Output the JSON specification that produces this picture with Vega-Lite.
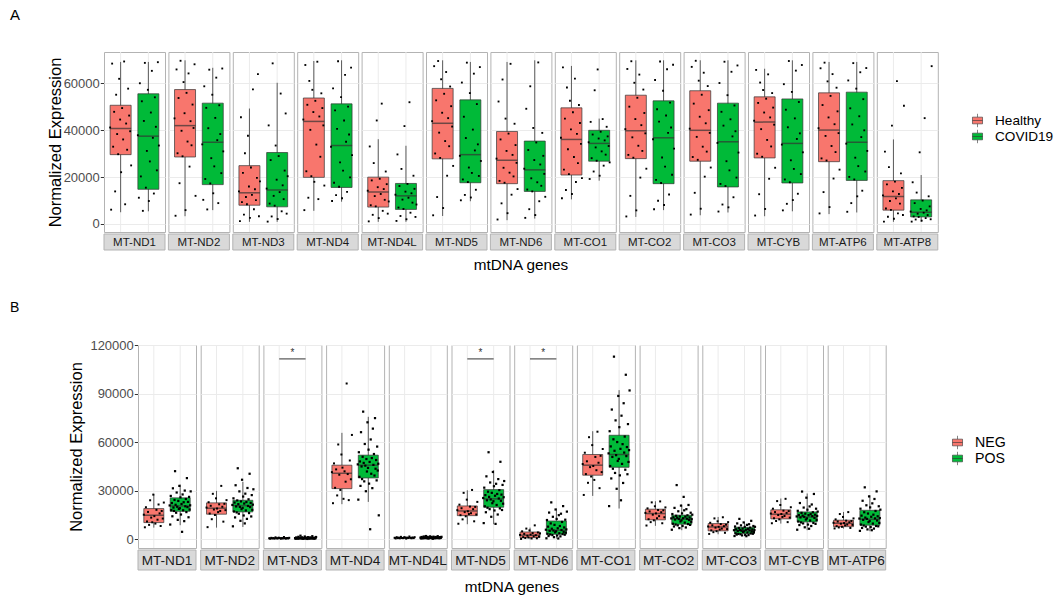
{
"$schema": "https://vega.github.io/schema/vega-lite/v6.json",
"padding": {"left": 10, "top": 8, "right": 0, "bottom": 0},
"background": "white",
"config": {
 "font": "Liberation Sans",
 "view": {"stroke": "#B3B3B3", "strokeWidth": 1},
 "title": {"fontWeight": "normal", "fontSize": 15, "color": "black", "anchor": "start", "frame": "group"},
 "axisY": {"domain": false, "labelColor": "#4D4D4D", "labelFontSize": 13, "labelPadding": 1, "tickColor": "#333333", "tickSize": 3.7, "titleFontWeight": "normal", "titleFontSize": 16.5, "titleColor": "black", "gridColor": "#EBEBEB"},
 "header": {"labelOrient": "bottom", "titleOrient": "bottom", "labelColor": "#1A1A1A", "titleFontWeight": "normal", "titleColor": "black", "titleFontSize": 15.3}
},
"datasets": {
 "a": [
  {"g":"MT-ND1","s":"Healthy","lo":5000,"q1":29600,"m":40800,"q3":50700,"hi":69200,"v":[41200,6100,68500,33000,47900,13900,55200,38400,29800,62000,44600,22100,49500,36100,69400,8400,42900,31700,57800,46300,39600,25000]},
  {"g":"MT-ND1","s":"COVID19","lo":5400,"q1":14800,"m":37500,"q3":55600,"hi":69200,"v":[37900,11200,60100,20300,52400,5600,44000,68800,15500,31200,57300,9800,26700,47600,65400,36800,13000,54100,41500,22900,69100,33500]},
  {"g":"MT-ND2","s":"Healthy","lo":3300,"q1":28600,"m":42000,"q3":57400,"hi":69900,"v":[45100,3500,66000,30200,53800,17400,69700,39800,28900,60600,47300,5900,56000,35200,64300,24500,43900,33600,51000,41000,68200,12000]},
  {"g":"MT-ND2","s":"COVID19","lo":5900,"q1":16800,"m":34900,"q3":51600,"hi":66700,"v":[34000,10300,58800,19200,49600,6200,40900,65900,17300,28100,55200,13100,24600,45300,62500,35800,8900,50700,38400,21700,66400,31000]},
  {"g":"MT-ND3","s":"Healthy","lo":900,"q1":8000,"m":13300,"q3":24900,"hi":49300,"v":[13900,1200,45600,9300,21800,4000,30200,11500,8400,37700,16000,2600,24100,12400,57500,6300,14800,10200,19700,64000,3300,18200]},
  {"g":"MT-ND3","s":"COVID19","lo":900,"q1":7300,"m":14500,"q3":30500,"hi":60300,"v":[15100,1000,42100,8700,27300,3200,68600,12000,7800,33500,18900,2100,29000,13600,55700,5400,16500,10600,22800,47200,4400,20400]},
  {"g":"MT-ND4","s":"Healthy","lo":5600,"q1":19900,"m":43800,"q3":53800,"hi":69600,"v":[44600,5900,67900,22500,50900,11200,61100,40200,20400,57300,47800,18000,52600,33900,69300,10600,45900,28700,55800,49500,42100,16400]},
  {"g":"MT-ND4","s":"COVID19","lo":9500,"q1":15600,"m":33500,"q3":51300,"hi":69900,"v":[33000,9800,57900,17600,48500,12300,40600,69500,15900,26300,54200,11000,22800,44200,63700,35100,13700,50100,38200,19900,66800,29400]},
  {"g":"MT-ND4L","s":"Healthy","lo":900,"q1":7200,"m":13600,"q3":20000,"hi":36200,"v":[14200,1100,33100,8000,18600,3900,26000,11900,7500,44200,15700,2500,19300,12800,51400,5600,14900,10300,22400,17000,4400,9600]},
  {"g":"MT-ND4L","s":"COVID19","lo":900,"q1":6200,"m":12000,"q3":17300,"hi":33400,"v":[12500,1300,29700,7000,16200,3400,23500,10400,6400,41800,13800,2000,17100,11200,52000,4800,13100,9100,20600,15000,3000,8300]},
  {"g":"MT-ND5","s":"Healthy","lo":3400,"q1":27800,"m":43000,"q3":57900,"hi":69900,"v":[43900,3700,67400,30100,52800,11500,69600,39000,28200,61800,47500,6800,55600,35400,64900,20600,45200,33200,58700,50300,41600,24800]},
  {"g":"MT-ND5","s":"COVID19","lo":9700,"q1":17600,"m":29600,"q3":53000,"hi":69200,"v":[29100,10100,60400,19000,45800,12400,36700,68900,17900,24100,55900,11300,21800,40300,64200,31400,14600,51200,34000,20500,67000,26900]},
  {"g":"MT-ND6","s":"Healthy","lo":1600,"q1":17200,"m":27200,"q3":39500,"hi":69200,"v":[27900,1900,52300,18400,36100,8800,61700,24000,17600,45000,31200,4600,38600,21900,68400,12500,29500,20300,42800,33700,26100,14900]},
  {"g":"MT-ND6","s":"COVID19","lo":2300,"q1":13900,"m":23100,"q3":35400,"hi":69900,"v":[23600,2600,49200,14700,31600,6300,58800,19500,13900,41000,27300,3800,34800,17800,69000,9700,25400,16300,38900,29100,21400,11600]},
  {"g":"MT-CO1","s":"Healthy","lo":10500,"q1":20900,"m":36100,"q3":49600,"hi":67500,"v":[36800,11000,66900,23200,45000,14500,58300,31900,21300,52600,40400,12800,47700,28600,62100,17900,38500,26000,50800,43100,34200,19600]},
  {"g":"MT-CO1","s":"COVID19","lo":18500,"q1":26800,"m":34400,"q3":40000,"hi":45000,"v":[34900,19200,43600,28100,38200,22400,57100,32700,27000,66000,36500,20600,39400,31000,44800,24900,35700,29600,41500,37400,33300,26300]},
  {"g":"MT-CO2","s":"Healthy","lo":3000,"q1":27900,"m":39800,"q3":55000,"hi":69900,"v":[40500,3200,66200,29500,50100,12000,69500,37000,28300,60300,44800,5800,53900,33400,63800,19800,42200,31200,57400,47400,38700,23600]},
  {"g":"MT-CO2","s":"COVID19","lo":5900,"q1":17200,"m":36800,"q3":52600,"hi":69900,"v":[36200,6300,61500,18800,49000,9900,43700,69400,17500,28400,56900,8100,24500,46300,66100,38900,12600,51800,41200,21000,68000,32200]},
  {"g":"MT-CO3","s":"Healthy","lo":3700,"q1":26800,"m":40000,"q3":56900,"hi":69900,"v":[40700,4000,67100,28600,51400,13300,69700,37200,27400,61200,45800,6500,55200,33000,64600,20200,43000,30900,58900,48600,38900,24100]},
  {"g":"MT-CO3","s":"COVID19","lo":4900,"q1":15800,"m":35100,"q3":51600,"hi":69900,"v":[34600,5300,60200,17100,47900,8300,42000,69300,16200,26800,55000,7100,22900,44700,65000,37400,11400,50600,39600,19800,67700,30500]},
  {"g":"MT-CYB","s":"Healthy","lo":3300,"q1":28200,"m":43500,"q3":54300,"hi":66300,"v":[44100,3600,65800,30000,51700,12700,60400,40500,28700,57200,47600,6400,53500,35900,63900,19300,45500,33100,55900,49700,42400,24000]},
  {"g":"MT-CYB","s":"COVID19","lo":5400,"q1":17500,"m":34400,"q3":53400,"hi":69900,"v":[33900,5800,59700,19000,48800,8600,41300,69600,17800,27200,56400,10200,23500,45100,65500,36300,12900,52100,38700,21300,67900,30600]},
  {"g":"MT-ATP6","s":"Healthy","lo":4200,"q1":26600,"m":40100,"q3":56000,"hi":69200,"v":[40900,4500,66500,28000,50800,13600,68900,37600,27100,60900,45500,7200,54700,33300,64000,19400,42600,30700,58200,48100,38800,23200]},
  {"g":"MT-ATP6","s":"COVID19","lo":4900,"q1":18600,"m":34900,"q3":56300,"hi":69200,"v":[34300,5200,61300,20100,49400,8900,42500,68700,19000,28300,57800,11800,24700,46000,64800,37100,14200,53300,40000,22400,66600,31200]},
  {"g":"MT-ATP8","s":"Healthy","lo":900,"q1":5900,"m":11700,"q3":18500,"hi":36100,"v":[12200,1000,30900,6600,16900,3100,24300,9800,6000,42000,13900,2200,18100,10900,61000,4500,12800,8700,21600,15400,3800,50500]},
  {"g":"MT-ATP8","s":"COVID19","lo":900,"q1":3000,"m":5000,"q3":10300,"hi":20900,"v":[5300,1000,17800,3200,8900,1900,13400,4400,3000,30600,6400,1400,10000,4800,45200,2500,5800,3800,11800,7500,2000,67400]}
 ],
 "b": [
  {"g":"MT-ND1","s":"NEG","lo":7200,"q1":10300,"m":14850,"q3":18970,"hi":28000,"v":[15200,7400,19800,11000,16900,8900,24100,13400,10500,27600,14300,9700,18200,12100,21500,16000,8200,17500,12800,22700]},
  {"g":"MT-ND1","s":"POS","lo":8700,"q1":17300,"m":20600,"q3":25600,"hi":33800,"v":[20900,9100,26800,18000,22400,14200,31500,19600,17500,24300,42100,21300,16400,28900,20100,12000,23700,18800,33000,19200,25900,15300,21800,4600,27700,17900,22900,11200,30100,20400,24900,16800,37800,19900,23100,13600,26200,18400,21000,29600]},
  {"g":"MT-ND2","s":"NEG","lo":7200,"q1":15500,"m":19200,"q3":22500,"hi":29900,"v":[19600,7500,22900,15900,20700,12400,28100,18400,15000,25300,19000,16800,21600,17500,33000,20100,10900,21900,18000,24200]},
  {"g":"MT-ND2","s":"POS","lo":7600,"q1":16900,"m":20800,"q3":24100,"hi":35500,"v":[21200,8000,25300,17200,22700,13500,33400,20300,16600,24000,43900,21700,15800,29600,20000,11400,23400,18600,36800,19400,26400,14700,22100,9800,28200,17800,23000,12600,31700,20600,24700,16200,40500,19900,22500,14100,27300,18200,21400,30900]},
  {"g":"MT-ND3","s":"NEG","lo":200,"q1":450,"m":600,"q3":850,"hi":1400,"v":[600,300,900,500,700,400,1200,600,500,1000,800,300,700,500,1400,600,400,800,500,900]},
  {"g":"MT-ND3","s":"POS","lo":200,"q1":500,"m":650,"q3":1000,"hi":1600,"sig":111500,"v":[700,300,1100,500,800,400,1500,600,500,900,2200,700,400,1200,600,300,800,500,1700,600,1000,400,700,200,1300,500,800,400,1100,600,900,500,1900,600,700,400,1000,500,700,1400]},
  {"g":"MT-ND4","s":"NEG","lo":21700,"q1":31300,"m":40800,"q3":45800,"hi":65800,"v":[41500,22300,46900,31800,43200,27100,58600,39900,30500,52400,44300,25000,42000,35600,96300,40300,24200,48700,37100,64500]},
  {"g":"MT-ND4","s":"POS","lo":23100,"q1":37900,"m":45800,"q3":52000,"hi":75700,"v":[46300,24500,53800,38600,48100,33000,66200,45000,37200,51000,78900,47200,35800,58900,45500,29700,49600,41900,72300,44100,55400,34400,47800,6200,61700,40500,50200,31600,68400,46000,52700,39400,74900,43600,49000,36400,57300,42500,46700,14800]},
  {"g":"MT-ND4L","s":"NEG","lo":400,"q1":700,"m":900,"q3":1150,"hi":1700,"v":[900,500,1300,700,1000,600,1500,800,700,1200,1100,400,1000,800,1700,900,600,1100,700,1300]},
  {"g":"MT-ND4L","s":"POS","lo":300,"q1":700,"m":950,"q3":1250,"hi":2000,"v":[1000,500,1400,700,1100,600,1700,900,700,1200,2000,1000,600,1500,900,400,1100,800,1800,900,1300,600,1000,300,1600,800,1100,600,1400,900,1200,700,1900,900,1000,600,1300,800,1000,1500]},
  {"g":"MT-ND5","s":"NEG","lo":9300,"q1":14600,"m":17500,"q3":20600,"hi":30300,"v":[18000,9600,21400,14900,19200,12300,28700,16800,14200,24500,17300,15600,20200,16100,30500,18600,11100,20000,15300,23100]},
  {"g":"MT-ND5","s":"POS","lo":9300,"q1":19800,"m":25000,"q3":30700,"hi":42700,"sig":111500,"v":[25500,10000,31900,20400,27300,16700,38900,24100,19500,29400,53800,26200,18600,35100,24600,13900,28700,22300,41600,23500,32800,17800,26900,9500,34300,21200,28000,15300,37200,25200,30400,19100,47900,23800,27600,18100,33600,22000,26000,36000]},
  {"g":"MT-ND6","s":"NEG","lo":0,"q1":1000,"m":2500,"q3":4500,"hi":7200,"v":[2700,200,4900,1300,3300,800,6600,2200,1100,5500,2900,500,3800,1800,8600,2500,600,4200,1600,3600]},
  {"g":"MT-ND6","s":"POS","lo":400,"q1":3100,"m":5600,"q3":11300,"hi":19000,"sig":111500,"v":[5900,600,11900,3400,7800,2000,16500,5200,3000,9800,22800,6500,2600,13900,5400,1300,8900,4300,18400,4900,12600,2300,6800,500,14900,3700,8200,1800,15800,5700,10700,3200,20500,4600,7300,2800,12100,4100,6100,17100]},
  {"g":"MT-CO1","s":"NEG","lo":26800,"q1":39600,"m":45800,"q3":52400,"hi":66800,"v":[46500,27400,53500,40300,48200,34900,63100,44600,38800,58200,45300,36700,50900,42700,66500,47300,31600,51600,41500,55800]},
  {"g":"MT-CO1","s":"POS","lo":19000,"q1":44500,"m":52400,"q3":64300,"hi":92200,"v":[53100,20500,66800,45300,57400,37600,80200,50900,43600,61800,112900,54700,41000,73500,52000,31200,60100,48400,88600,49700,69300,39500,55900,24100,76400,46600,58800,34800,84100,53600,63500,43000,101700,51400,57000,40200,71200,47800,55100,92000]},
  {"g":"MT-CO2","s":"NEG","lo":8300,"q1":12000,"m":15900,"q3":18600,"hi":23500,"v":[16300,8500,19100,12400,17200,10600,22800,15200,11700,20400,16000,13000,18100,14300,23400,16700,9900,17900,13600,19700]},
  {"g":"MT-CO2","s":"POS","lo":5600,"q1":9300,"m":12600,"q3":14900,"hi":21400,"v":[12900,5900,15600,9600,13600,7900,19400,12200,9100,14500,33500,13300,8600,17300,12500,6900,14100,11000,20800,11700,16000,8200,13000,26200,17900,10300,14000,7300,18600,12700,14800,9400,21200,11900,13500,8900,16400,10800,12400,15200]},
  {"g":"MT-CO3","s":"NEG","lo":3100,"q1":5200,"m":7600,"q3":9700,"hi":13800,"v":[7900,3300,10200,5500,8600,4400,12900,7200,5000,11100,7700,6000,9400,6600,13600,8100,4000,9000,6300,10600]},
  {"g":"MT-CO3","s":"POS","lo":1900,"q1":3500,"m":5400,"q3":7400,"hi":10700,"v":[5600,2000,7900,3700,6200,2900,9800,5100,3300,7000,12600,5800,3100,8600,5300,2400,6600,4500,10400,4900,7600,2700,5900,1900,8900,4200,6400,2600,9300,5500,7200,3600,11400,4800,6100,3400,8200,4400,5700,7700]},
  {"g":"MT-CYB","s":"NEG","lo":9700,"q1":12600,"m":15500,"q3":18200,"hi":25200,"v":[15900,9900,18900,13000,16800,11300,23600,15000,12300,21200,15600,13800,17700,14400,25000,16300,10600,17400,13400,19800]},
  {"g":"MT-CYB","s":"POS","lo":5600,"q1":10700,"m":13800,"q3":16900,"hi":28300,"v":[14100,5900,17600,11000,15000,8800,22400,13500,10400,16300,29500,14600,9800,19600,13900,7400,15800,12200,25700,12900,18300,9100,14900,6500,20300,11600,15500,8200,21500,14300,16700,10100,28000,13200,15200,9500,18900,12000,14400,17100]},
  {"g":"MT-ATP6","s":"NEG","lo":6600,"q1":7800,"m":9900,"q3":11800,"hi":16900,"v":[10200,6700,12300,8100,11000,7300,15600,9600,7700,13800,10000,8600,11500,9100,16800,10500,7000,11300,8900,12900]},
  {"g":"MT-ATP6","s":"POS","lo":5000,"q1":8700,"m":12400,"q3":17900,"hi":27200,"v":[12800,5200,18900,9100,14600,7000,23800,12000,8500,16700,32100,13400,7800,21000,12600,6100,15900,10600,26500,11300,19700,7500,13900,5600,22200,9700,15200,6600,24900,12900,17500,8200,29600,11600,14200,8000,20400,10100,13100,18300]}
 ]
},
"concat": [
 {
  "vconcat": [
   {
    "data": {"name": "a"},
    "title": {"text": "A", "dx": -94, "offset": 28},
    "facet": {"column": {"field": "g", "type": "nominal", "sort": ["MT-ND1","MT-ND2","MT-ND3","MT-ND4","MT-ND4L","MT-ND5","MT-ND6","MT-CO1","MT-CO2","MT-CO3","MT-CYB","MT-ATP6","MT-ATP8"], "header": {"labels": false, "title": null}}},
    "spacing": 3.4,
    "bounds": "flush",
    "spec": {
     "width": 61, "height": 180,
     "encoding": {"x": {"field": "s", "type": "nominal", "scale": {"type": "point", "padding": 0.6, "domain": ["Healthy", "COVID19"]}, "axis": null}},
     "resolve": {"scale": {"xOffset": "independent"}},
     "layer": [
      {"mark": {"type": "rule", "color": "#EBEBEB", "strokeWidth": 1}, "encoding": {}},
      {"mark": {"type": "rule", "color": "#333333", "strokeWidth": 0.8},
       "encoding": {"y": {"field": "lo", "type": "quantitative", "title": "Normalized Expression", "scale": {"domain": [-3440, 73450], "nice": false, "zero": false},
         "axis": {"values": [0,10000,20000,30000,40000,50000,60000,70000], "format": "d", "labelExpr": "datum.value % 20000 == 0 ? datum.label : ''", "tickOpacity": {"condition": {"test": "datum.value % 20000 == 0", "value": 1}, "value": 0}, "gridWidth": {"condition": {"test": "datum.value % 20000 == 0", "value": 1}, "value": 0.5}, "titlePadding": 0}},
        "y2": {"field": "hi"}}},
      {"mark": {"type": "bar", "size": 21, "stroke": "#333333", "strokeWidth": 0.7},
       "encoding": {"y": {"field": "q1", "type": "quantitative", "title": "Normalized Expression"}, "y2": {"field": "q3"},
        "color": {"field": "s", "type": "nominal", "scale": {"domain": ["Healthy", "COVID19"], "range": ["#F8766D", "#00BA38"]},
         "legend": {"title": null, "orient": "none", "legendX": 866, "legendY": 61, "labelFontSize": 13.6, "labelColor": "black", "symbolType": "M-0.75,-0.5H0.75V0.5H-0.75Z M-0.75,0H0.75 M0,-0.5V-1 M0,0.5V1", "symbolSize": 180, "symbolStrokeColor": "#333333", "symbolStrokeWidth": 0.6, "symbolOpacity": 1, "rowPadding": -1, "labelOffset": 10, "padding": 0}}}},
      {"mark": {"type": "tick", "size": 21, "thickness": 1.5, "color": "#333333"},
       "encoding": {"y": {"field": "m", "type": "quantitative", "title": "Normalized Expression"}}},
      {"transform": [{"filter": "datum.s == 'Healthy'"}, {"flatten": ["v"]}, {"window": [{"op": "row_number", "as": "i"}], "groupby": ["g", "s"]}],
       "mark": {"type": "point", "shape": "square", "filled": true, "size": 3.5, "color": "black", "opacity": 1},
       "encoding": {"y": {"field": "v", "type": "quantitative", "title": "Normalized Expression"},
        "xOffset": {"field": "i", "type": "quantitative", "scale": {"domain": [1, 22], "range": [-10.5, 10.5]}}}},
      {"transform": [{"filter": "datum.s == 'COVID19'"}, {"flatten": ["v"]}, {"window": [{"op": "row_number", "as": "i"}], "groupby": ["g", "s"]}],
       "mark": {"type": "point", "shape": "square", "filled": true, "size": 3.5, "color": "black", "opacity": 1},
       "encoding": {"y": {"field": "v", "type": "quantitative", "title": "Normalized Expression"},
        "xOffset": {"field": "i", "type": "quantitative", "scale": {"domain": [1, 22], "range": [-10.5, 10.5]}}}}
     ]
    }
   },
   {
    "data": {"name": "a"},
    "transform": [{"filter": "datum.s == 'Healthy'"}],
    "facet": {"column": {"field": "g", "type": "nominal", "sort": ["MT-ND1","MT-ND2","MT-ND3","MT-ND4","MT-ND4L","MT-ND5","MT-ND6","MT-CO1","MT-CO2","MT-CO3","MT-CYB","MT-ATP6","MT-ATP8"], "header": {"labels": false, "title": "mtDNA genes", "titlePadding": -2}}},
    "spacing": 3.4,
    "bounds": "flush",
    "spec": {
     "width": 61, "height": 16,
     "layer": [
      {"mark": {"type": "rect", "fill": "#D9D9D9", "stroke": "#B3B3B3", "strokeWidth": 1}, "encoding": {}},
      {"mark": {"type": "text", "fontSize": 11.5, "color": "#1A1A1A", "baseline": "middle", "dy": 0.5}, "encoding": {"text": {"field": "g", "type": "nominal"}}}
     ]
    }
   }
  ],
  "spacing": 0,
  "resolve": {"legend": {"color": "independent"}}
 },
 {
  "hconcat": [
   {
    "data": {"values": [{"k": 0}]},
    "width": 1, "height": 1,
    "view": {"stroke": null},
    "mark": {"type": "text", "text": ""},
    "encoding": {}
   },
   {
    "vconcat": [
     {
      "data": {"name": "b"},
      "title": {"text": "B", "dx": -128, "offset": 24, "fontSize": 14},
      "facet": {"column": {"field": "g", "type": "nominal", "sort": ["MT-ND1","MT-ND2","MT-ND3","MT-ND4","MT-ND4L","MT-ND5","MT-ND6","MT-CO1","MT-CO2","MT-CO3","MT-CYB","MT-ATP6"], "header": {"labels": false, "title": null}}},
      "spacing": 4.7,
      "bounds": "flush",
      "spec": {
       "width": 58, "height": 203,
       "encoding": {"x": {"field": "s", "type": "nominal", "scale": {"type": "point", "padding": 0.6, "domain": ["NEG", "POS"]}, "axis": null}},
       "resolve": {"scale": {"xOffset": "independent"}},
       "layer": [
        {"mark": {"type": "rule", "color": "#EBEBEB", "strokeWidth": 1}, "encoding": {}},
        {"mark": {"type": "rule", "color": "#333333", "strokeWidth": 0.8},
         "encoding": {"y": {"field": "lo", "type": "quantitative", "title": "Normalized Expression", "scale": {"domain": [-5400, 120100], "nice": false, "zero": false},
           "axis": {"values": [0,15000,30000,45000,60000,75000,90000,105000,120000], "format": "d", "labelExpr": "datum.value % 30000 == 0 ? datum.label : ''", "tickOpacity": {"condition": {"test": "datum.value % 30000 == 0", "value": 1}, "value": 0}, "gridWidth": {"condition": {"test": "datum.value % 30000 == 0", "value": 1}, "value": 0.5}, "titlePadding": 5.5}},
          "y2": {"field": "hi"}}},
        {"mark": {"type": "bar", "size": 20, "stroke": "#333333", "strokeWidth": 0.7},
         "encoding": {"y": {"field": "q1", "type": "quantitative", "title": "Normalized Expression"}, "y2": {"field": "q3"},
          "color": {"field": "s", "type": "nominal", "scale": {"domain": ["NEG", "POS"], "range": ["#F8766D", "#00BA38"]},
           "legend": {"title": null, "orient": "none", "legendX": 812, "legendY": 90, "labelFontSize": 14.2, "labelColor": "black", "symbolType": "M-0.75,-0.5H0.75V0.5H-0.75Z M-0.75,0H0.75 M0,-0.5V-1 M0,0.5V1", "symbolSize": 180, "symbolStrokeColor": "#333333", "symbolStrokeWidth": 0.6, "symbolOpacity": 1, "rowPadding": -4, "labelOffset": 10, "padding": 0}}}},
        {"mark": {"type": "tick", "size": 20, "thickness": 1.5, "color": "#333333"},
         "encoding": {"y": {"field": "m", "type": "quantitative", "title": "Normalized Expression"}}},
        {"transform": [{"filter": "datum.s == 'NEG'"}, {"flatten": ["v"]}, {"window": [{"op": "row_number", "as": "i"}], "groupby": ["g", "s"]}],
         "mark": {"type": "point", "shape": "square", "filled": true, "size": 4, "color": "black", "opacity": 1},
         "encoding": {"y": {"field": "v", "type": "quantitative", "title": "Normalized Expression"},
          "xOffset": {"field": "i", "type": "quantitative", "scale": {"domain": [1, 20], "range": [-10, 10]}}}},
        {"transform": [{"filter": "datum.s == 'POS'"}, {"flatten": ["v"]}, {"window": [{"op": "row_number", "as": "i"}], "groupby": ["g", "s"]}],
         "mark": {"type": "point", "shape": "square", "filled": true, "size": 5, "color": "black", "opacity": 1},
         "encoding": {"y": {"field": "v", "type": "quantitative", "title": "Normalized Expression"},
          "xOffset": {"field": "i", "type": "quantitative", "scale": {"domain": [1, 40], "range": [-10.5, 10.5]}}}},
        {"transform": [{"filter": "datum.sig > 0"}],
         "mark": {"type": "rule", "color": "#333333", "strokeWidth": 1},
         "encoding": {"x": {"datum": "NEG"}, "x2": {"datum": "POS"}, "y": {"field": "sig", "type": "quantitative", "title": "Normalized Expression"}}},
        {"transform": [{"filter": "datum.sig > 0"}],
         "mark": {"type": "text", "text": "*", "fontSize": 10, "dx": 13.2, "dy": -1, "baseline": "bottom", "color": "#333333"},
         "encoding": {"x": {"datum": "NEG"}, "y": {"field": "sig", "type": "quantitative", "title": "Normalized Expression"}}}
       ]
      }
     },
     {
      "data": {"name": "b"},
      "transform": [{"filter": "datum.s == 'NEG'"}],
      "facet": {"column": {"field": "g", "type": "nominal", "sort": ["MT-ND1","MT-ND2","MT-ND3","MT-ND4","MT-ND4L","MT-ND5","MT-ND6","MT-CO1","MT-CO2","MT-CO3","MT-CYB","MT-ATP6"], "header": {"labels": false, "title": "mtDNA genes", "titlePadding": 0}}},
      "spacing": 4.7,
      "bounds": "flush",
      "spec": {
       "width": 58, "height": 20,
       "layer": [
        {"mark": {"type": "rect", "fill": "#D9D9D9", "stroke": "#B3B3B3", "strokeWidth": 1}, "encoding": {}},
        {"mark": {"type": "text", "fontSize": 13.6, "color": "#1A1A1A", "baseline": "middle", "dy": 0.5}, "encoding": {"text": {"field": "g", "type": "nominal"}}}
       ]
      }
     }
    ],
    "spacing": 0,
    "resolve": {"legend": {"color": "independent"}}
   }
  ],
  "spacing": -95,
  "resolve": {"legend": {"color": "independent"}}
 }
],
"columns": 1,
"align": "none",
"spacing": 27,
"resolve": {"scale": {"color": "independent", "x": "independent", "y": "independent", "xOffset": "independent"}, "legend": {"color": "independent"}}
}
